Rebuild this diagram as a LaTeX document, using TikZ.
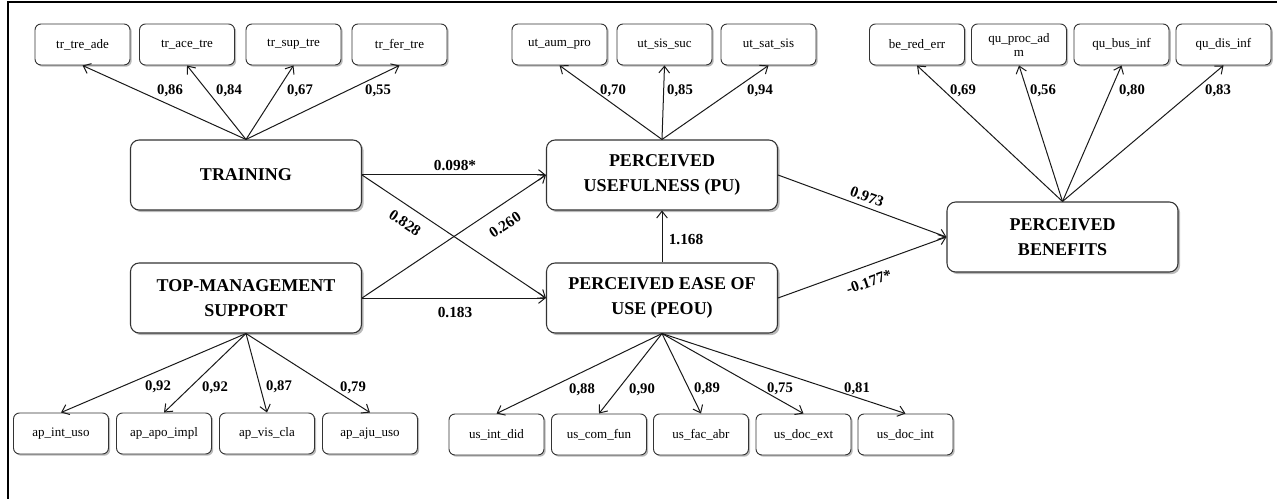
\documentclass[tikz,border=0pt]{standalone}
\usepackage{fontspec}
\setmainfont{Liberation Serif}
\usetikzlibrary{arrows.meta,shadows}
\tikzset{
  mainbox/.style={draw=black!80, line width=0.8pt, rounded corners=6.5pt, fill=white,
    drop shadow={shadow xshift=1.6pt, shadow yshift=-1.6pt, opacity=0.45, fill=black!60},
    minimum width=173.25pt, minimum height=52.5pt, align=center,
    font=\bfseries\fontsize{13.5}{18.5}\selectfont, inner sep=2pt},
  indbox/.style={draw=black!80, line width=0.7pt, rounded corners=4.5pt, fill=white,
    drop shadow={shadow xshift=1.3pt, shadow yshift=-1.3pt, opacity=0.45, fill=black!60},
    minimum width=71.25pt, minimum height=30.75pt, align=center,
    font=\fontsize{9.75}{10.5}\selectfont, inner sep=1pt},
  arr/.style={draw=black!90, line width=0.75pt, -{Straight Barb[length=5pt,width=8pt,line width=0.75pt]}},
  loadlab/.style={font=\bfseries\fontsize{11}{12}\selectfont, inner sep=0pt},
  pathlab/.style={font=\bfseries\fontsize{11.5}{12}\selectfont, inner sep=0pt},
}
\begin{document}
\begin{tikzpicture}[x=0.75pt,y=-0.75pt]
\useasboundingbox (0,0) rectangle (1277,499);
\draw[line width=1.1pt] (8,499) -- (8,2) -- (1277,2);

% main constructs
\node[mainbox] (TR) at (246,175) {TRAINING};
\node[mainbox] (TM) at (246,298) {TOP-MANAGEMENT\\SUPPORT};
\node[mainbox] (PU) at (662,175) {PERCEIVED\\USEFULNESS (PU)};
\node[mainbox] (PE) at (662,298) {PERCEIVED EASE OF\\USE (PEOU)};
\node[mainbox] (PB) at (1062.5,237) {PERCEIVED\\BENEFITS};

% training indicators
\node[indbox] (t1) at (82.5,44.5) {tr\_tre\_ade};
\node[indbox] (t2) at (187,44.5) {tr\_ace\_tre};
\node[indbox] (t3) at (293.5,44.5) {tr\_sup\_tre};
\node[indbox] (t4) at (399.5,44.5) {tr\_fer\_tre};
% PU indicators
\node[indbox] (u1) at (559.5,44.5) {ut\_aum\_pro};
\node[indbox] (u2) at (664.5,44.5) {ut\_sis\_suc};
\node[indbox] (u3) at (768.5,44.5) {ut\_sat\_sis};
% benefits indicators
\node[indbox] (b1) at (917,44.5) {be\_red\_err};
\node[indbox] (b2) at (1019,44.5) {qu\_proc\_ad\\m};
\node[indbox] (b3) at (1121.5,44.5) {qu\_bus\_inf};
\node[indbox] (b4) at (1223.5,44.5) {qu\_dis\_inf};
% TMS indicators
\node[indbox] (a1) at (61,433.5) {ap\_int\_uso};
\node[indbox] (a2) at (164,433.5) {ap\_apo\_impl};
\node[indbox] (a3) at (267,433.5) {ap\_vis\_cla};
\node[indbox] (a4) at (370,433.5) {ap\_aju\_uso};
% PEOU indicators
\node[indbox] (s1) at (496.5,434.5) {us\_int\_did};
\node[indbox] (s2) at (599,434.5) {us\_com\_fun};
\node[indbox] (s3) at (701,434.5) {us\_fac\_abr};
\node[indbox] (s4) at (803.5,434.5) {us\_doc\_ext};
\node[indbox] (s5) at (905.5,434.5) {us\_doc\_int};

% loading arrows
\foreach \t in {t1,t2,t3,t4} \draw[arr] (TR.north) -- (\t.south);
\foreach \t in {u1,u2,u3} \draw[arr] (PU.north) -- (\t.south);
\foreach \t in {b1,b2,b3,b4} \draw[arr] (PB.north) -- (\t.south);
\foreach \t in {a1,a2,a3,a4} \draw[arr] (TM.south) -- (\t.north);
\foreach \t in {s1,s2,s3,s4,s5} \draw[arr] (PE.south) -- (\t.north);

% loading labels
\node[loadlab] (lt1) at (170,91) {0,86};
\node[loadlab] (lt2) at (229,91) {0,84};
\node[loadlab] (lt3) at (300,91) {0,67};
\node[loadlab] (lt4) at (378,91) {0,55};
\node[loadlab] (lu1) at (613,91) {0,70};
\node[loadlab] (lu2) at (680,91) {0,85};
\node[loadlab] (lu3) at (760,91) {0,94};
\node[loadlab] (lb1) at (963,91) {0,69};
\node[loadlab] (lb2) at (1043,91) {0,56};
\node[loadlab] (lb3) at (1132,91) {0,80};
\node[loadlab] (lb4) at (1218,91) {0,83};
\node[loadlab] (la1) at (158,387) {0,92};
\node[loadlab] (la2) at (215,388) {0,92};
\node[loadlab] (la3) at (279,387) {0,87};
\node[loadlab] (la4) at (353,388) {0,79};
\node[loadlab] (ls1) at (582,390) {0,88};
\node[loadlab] (ls2) at (642,390) {0,90};
\node[loadlab] (ls3) at (707,389) {0,89};
\node[loadlab] (ls4) at (780,389) {0,75};
\node[loadlab] (ls5) at (857,389) {0,81};

% structural paths
\draw[arr] (TR.east) -- (PU.west);
\draw[arr] (TR.east) -- (PE.west);
\draw[arr] (TM.east) -- (PU.west);
\draw[arr] (TM.east) -- (PE.west);
\draw[arr] (PE.north) -- (PU.south);
\draw[arr] (PU.east) -- (PB.west);
\draw[arr] (PE.east) -- (PB.west);

\node[pathlab] (p1) at (455,166) {0.098*};
\node[pathlab, rotate=-33.7] (p2) at (405,223) {0.828};
\node[pathlab, rotate=33.6] (p3) at (505,225) {0.260};
\node[pathlab] (p4) at (455,313) {0.183};
\node[pathlab] (p5) at (686,240) {1.168};
\node[pathlab, rotate=-20] (p6) at (867,197) {0.973};
\node[pathlab, rotate=19.5] (p7) at (869,282) {-0.177*};
\end{tikzpicture}
\end{document}
